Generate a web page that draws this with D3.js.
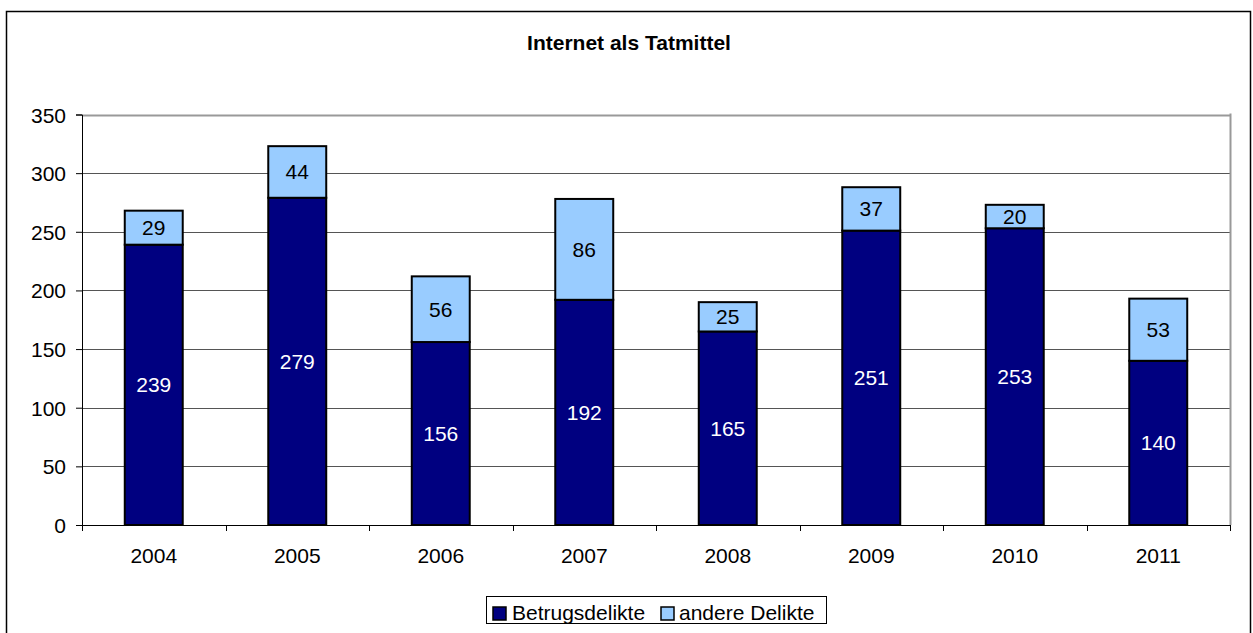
<!DOCTYPE html>
<html><head><meta charset="utf-8">
<script src="https://cdn.jsdelivr.net/npm/d3@7"></script>
<style>body{margin:0;background:#fff;} svg text{font-family:"Liberation Sans",Arial,sans-serif;}</style>
</head><body>
<svg id="c" width="1253" height="633"></svg>
<script>
const years = ["2004","2005","2006","2007","2008","2009","2010","2011"];
const betrug = [239,279,156,192,165,251,253,140];
const andere = [29,44,56,86,25,37,20,53];
const seriesNames = ["Betrugsdelikte","andere Delikte"];
const colors = ["#000080","#99CCFF"];
const yTicks = [0,50,100,150,200,250,300,350];
const title = "Internet als Tatmittel";

const svg = d3.select("#c");
const FS = 21;
svg.append("rect").attr("x",6.5).attr("y",11.5).attr("width",1244).attr("height",640).attr("fill","#fff").attr("stroke","#000").attr("stroke-width",1.5);

const m={l:82,r:1230,t:114.5,b:525};
const x=d3.scaleBand().domain(years).range([m.l,m.r]).paddingInner(0.596).paddingOuter(0.298);
const y=d3.scaleLinear().domain([0,350]).range([m.b,m.t]);

svg.append("text").attr("x",629).attr("y",50).attr("text-anchor","middle").attr("font-size",FS).attr("font-weight","bold").text(title);

// gridlines
svg.append("g").selectAll("line").data(yTicks.filter(d=>d>0)).join("line")
 .attr("x1",m.l).attr("x2",m.r).attr("y1",d=>Math.round(y(d))+0.5).attr("y2",d=>Math.round(y(d))+0.5)
 .attr("stroke",d=>d===350?"#999":"#555").attr("stroke-width",d=>d===350?2:1);
// right border
svg.append("line").attr("x1",m.r+0.5).attr("x2",m.r+0.5).attr("y1",m.t-1).attr("y2",m.b).attr("stroke","#999").attr("stroke-width",2);

const stack=d3.stack().keys([0,1]).value((d,k)=>k===0?d.b:d.a);
const rows=years.map((yr,i)=>({yr,b:betrug[i],a:andere[i]}));
const st=stack(rows);
st.forEach((s,k)=>{
  const g=svg.append("g");
  g.selectAll("rect").data(s).join("rect")
   .attr("x",d=>x(d.data.yr)).attr("width",x.bandwidth())
   .attr("y",d=>y(d[1])).attr("height",d=>y(d[0])-y(d[1]))
   .attr("fill",colors[k]).attr("stroke","#000").attr("stroke-width",2);
  g.selectAll("text").data(s).join("text")
   .attr("x",d=>x(d.data.yr)+x.bandwidth()/2).attr("y",d=>(y(d[0])+y(d[1]))/2+7.5)
   .attr("text-anchor","middle").attr("font-size",FS).attr("fill",k===0?"#fff":"#000")
   .text(d=>d[1]-d[0]);
});

// y axis
const ya=d3.axisLeft(y).tickValues(yTicks).tickSize(6).tickPadding(10);
const yg=svg.append("g").attr("transform",`translate(${m.l},0)`).call(ya);
yg.attr("font-family",null).attr("font-size",null);
yg.select(".domain").attr("stroke","#000");
yg.selectAll(".tick line").attr("stroke","#000");
yg.selectAll("text").attr("font-size",FS).attr("fill","#000").attr("dy","0.36em");
// x axis
svg.append("line").attr("x1",m.l-6).attr("x2",m.r).attr("y1",m.b+0.5).attr("y2",m.b+0.5).attr("stroke","#000");
const bounds=years.map(yr=>x(yr)-x.step()*x.paddingInner()/2).concat([m.r]);
svg.append("g").selectAll("line").data(bounds).join("line")
 .attr("x1",d=>Math.round(d)+0.5).attr("x2",d=>Math.round(d)+0.5).attr("y1",m.b).attr("y2",m.b+6).attr("stroke","#000");
svg.append("g").selectAll("text").data(years).join("text")
 .attr("x",d=>x(d)+x.bandwidth()/2).attr("y",m.b+38).attr("text-anchor","middle").attr("font-size",FS).text(d=>d);

// legend
const lg=svg.append("g");
lg.append("rect").attr("x",486.5).attr("y",596.5).attr("width",340).attr("height",27).attr("fill","#fff").attr("stroke","#000");
const items=[{x:493,tx:512},{x:661,tx:679}];
seriesNames.forEach((n,i)=>{
  lg.append("rect").attr("x",items[i].x).attr("y",607).attr("width",13).attr("height",13).attr("fill",colors[i]).attr("stroke","#000").attr("stroke-width",1.5);
  lg.append("text").attr("x",items[i].tx).attr("y",620).attr("font-size",FS).text(n);
});
</script>
</body></html>
